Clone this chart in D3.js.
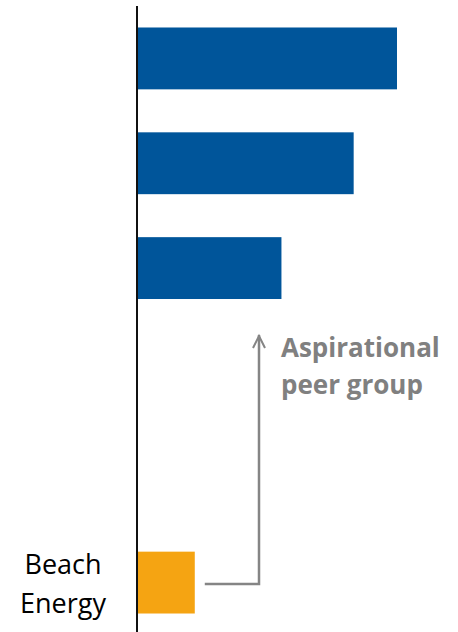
<!DOCTYPE html>
<html>
<head>
<meta charset="utf-8">
<script src="https://cdn.jsdelivr.net/npm/d3@7"></script>
<style>
  html, body { margin: 0; padding: 0; background: #fff; }
  svg { display: block; }
</style>
</head>
<body>
<div id="chart"></div>
<script>
// peers on top, two empty slots, then Beach Energy at the bottom
const categories = ['Peer 1', 'Peer 2', 'Peer 3', 'gap 1', 'gap 2', 'Beach Energy'];
const labels = ['', '', '', '', '', 'Beach Energy'];
const values = [4.5, 3.75, 2.5, null, null, 1.0];
const annotation = ['Aspirational', 'peer group'];

const config = {
  width: 458,
  height: 632,
  axisX: 137,
  barMax: 260,
  blue: '#00559a',
  orange: '#f5a412',
  grey: '#858585'
};

const svg = d3.select('#chart').append('svg')
  .attr('width', config.width)
  .attr('height', config.height);

const x = d3.scaleLinear()
  .domain([0, d3.max(values)])
  .range([config.axisX, config.axisX + config.barMax]);

const y = d3.scaleBand()
  .domain(categories)
  .range([6, 635])
  .paddingInner(0.41)
  .paddingOuter(0.205);

const rows = categories.map((c, i) => ({ cat: c, label: labels[i], value: values[i] }));

svg.append('g')
  .selectAll('rect')
  .data(rows.filter(d => d.value != null))
  .join('rect')
  .attr('x', x(0))
  .attr('y', d => y(d.cat))
  .attr('width', d => x(d.value) - x(0))
  .attr('height', y.bandwidth())
  .attr('fill', d => d.cat === 'Beach Energy' ? config.orange : config.blue);

// vertical axis line
svg.append('line')
  .attr('x1', x(0)).attr('x2', x(0))
  .attr('y1', 6).attr('y2', config.height)
  .attr('stroke', '#111')
  .attr('stroke-width', 2);

// category labels (only Beach Energy is named)
rows.filter(d => d.label).forEach(d => {
  const words = d.label.split(' ');
  const t = svg.append('text')
    .attr('text-anchor', 'middle')
    .attr('font-family', '"Open Sans", sans-serif')
    .attr('font-size', 27)
    .attr('fill', '#000');
  const cy = y(d.cat) + y.bandwidth() / 2;
  words.forEach((w, i) => {
    t.append('tspan')
      .attr('x', 63)
      .attr('y', cy - 9 + i * 39)
      .text(w);
  });
});

// connector from Beach Energy up to the peers
const beachY = y('Beach Energy') + y.bandwidth() / 2 + 1.5;
const arrowX = 259;
const arrowTop = 335;
svg.append('path')
  .attr('d', `M${x(values[5]) + 10},${beachY} H${arrowX} V${arrowTop}`)
  .attr('fill', 'none')
  .attr('stroke', config.grey)
  .attr('stroke-width', 2.5);
svg.append('path')
  .attr('d', `M${arrowX - 6},${arrowTop + 13} L${arrowX},${arrowTop + 1} L${arrowX + 6},${arrowTop + 13}`)
  .attr('fill', 'none')
  .attr('stroke', config.grey)
  .attr('stroke-width', 2);

const note = svg.append('text')
  .attr('font-family', '"Open Sans", sans-serif')
  .attr('font-weight', 'bold')
  .attr('font-size', 26)
  .attr('fill', '#808080');
annotation.forEach((line, i) => {
  note.append('tspan')
    .attr('x', 281)
    .attr('y', 357 + i * 37)
    .text(line);
});
</script>
</body>
</html>
